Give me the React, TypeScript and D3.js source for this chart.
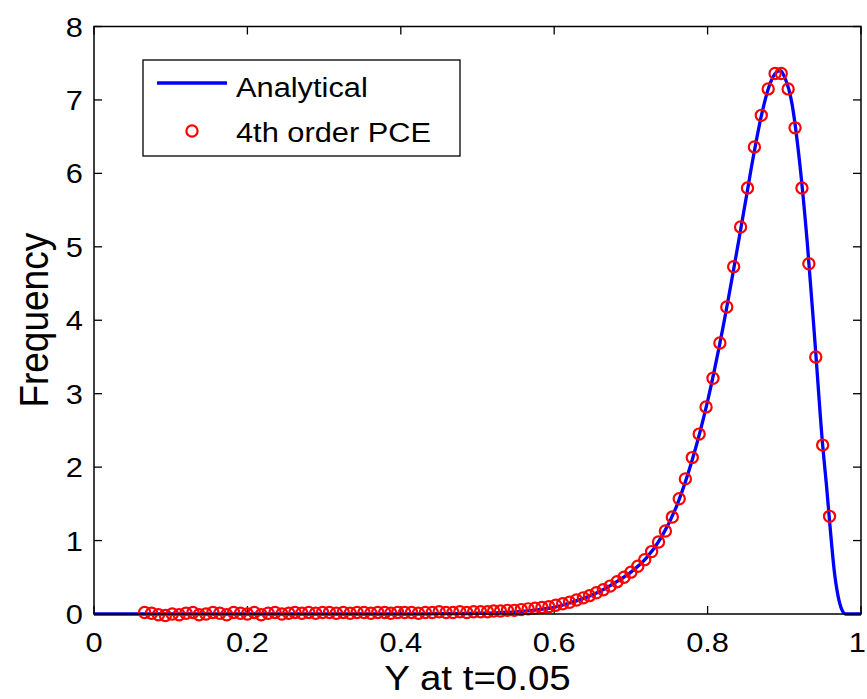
import React from "react";
import * as d3 from "d3";

// 4th order PCE histogram (circles)
const pceX = [
  0.066, 0.075, 0.084, 0.093, 0.102, 0.111, 0.12, 0.129, 0.137, 0.146,
  0.155, 0.164, 0.173, 0.182, 0.191, 0.2, 0.209, 0.218, 0.227, 0.236,
  0.245, 0.254, 0.262, 0.271, 0.28, 0.289, 0.298, 0.307, 0.316, 0.325,
  0.334, 0.343, 0.352, 0.361, 0.37, 0.379, 0.387, 0.396, 0.405, 0.414,
  0.423, 0.432, 0.441, 0.45, 0.459, 0.468, 0.477, 0.486, 0.495, 0.504,
  0.513, 0.521, 0.53, 0.539, 0.548, 0.557, 0.566, 0.575, 0.584, 0.593,
  0.602, 0.611, 0.62, 0.629, 0.638, 0.646, 0.655, 0.664, 0.673, 0.682,
  0.691, 0.7, 0.709, 0.718, 0.727, 0.736, 0.745, 0.754, 0.763, 0.771,
  0.78, 0.789, 0.798, 0.807, 0.816, 0.825, 0.834, 0.843, 0.852, 0.861,
  0.87, 0.879, 0.888, 0.896, 0.905, 0.914, 0.923, 0.932, 0.941, 0.95,
  0.959,
];
const pceY = [
  0.02, 0.01, -0.01, -0.02, 0.0, -0.01, 0.01, 0.02, -0.01, 0.0,
  0.02, 0.01, -0.01, 0.02, 0.01, 0.0, 0.02, -0.01, 0.01, 0.02,
  0.0, 0.01, 0.02, 0.01, 0.02, 0.01, 0.02, 0.02, 0.01, 0.02,
  0.01, 0.02, 0.02, 0.01, 0.02, 0.02, 0.01, 0.02, 0.02, 0.02,
  0.01, 0.02, 0.02, 0.03, 0.02, 0.02, 0.03, 0.02, 0.03, 0.03,
  0.03, 0.04, 0.04, 0.05, 0.05, 0.06, 0.07, 0.08, 0.09, 0.1,
  0.12, 0.14, 0.16, 0.19, 0.22, 0.25, 0.29, 0.33, 0.38, 0.44,
  0.5, 0.57, 0.65, 0.74, 0.85, 0.98, 1.13, 1.32, 1.57, 1.84,
  2.13, 2.45, 2.82, 3.21, 3.69, 4.18, 4.73, 5.27, 5.8, 6.36,
  6.79, 7.15, 7.36, 7.36, 7.15, 6.62, 5.8, 4.77, 3.5, 2.3,
  1.33,
];

// Analytical density (line)
const exactX = [
  0, 0.05, 0.1, 0.2, 0.3, 0.4, 0.45, 0.5, 0.55, 0.58, 0.6, 0.62, 0.64, 0.66,
  0.68, 0.7, 0.72, 0.74, 0.76, 0.78, 0.8, 0.82, 0.84, 0.85, 0.86, 0.87, 0.88,
  0.89, 0.895, 0.9, 0.91, 0.92, 0.93, 0.94, 0.95, 0.955, 0.96, 0.965, 0.97,
  0.975, 0.98, 1,
];
const exactY = [
  0, 0, 0, 0, 0, 0, 0.005, 0.01, 0.03, 0.06, 0.09, 0.15, 0.22, 0.31,
  0.43, 0.57, 0.76, 1.05, 1.48, 2.1, 2.9, 3.9, 5.05, 5.65, 6.25, 6.78, 7.18,
  7.38, 7.4, 7.32, 6.95, 6.15, 5.05, 3.7, 2.3, 1.75, 1.15, 0.6, 0.25,
  0.06, 0, 0,
];

const xTicks = [0, 0.2, 0.4, 0.6, 0.8, 1];
const yTicks = [0, 1, 2, 3, 4, 5, 6, 7, 8];
const seriesNames = ["Analytical", "4th order PCE"];

export default function App() {
  const ref = React.useRef<SVGSVGElement>(null);
  React.useEffect(() => {
    const width = 867;
    const height = 699;
    const marginLeft = 94;
    const marginRight = 6;
    const marginTop = 26.5;
    const marginBottom = 85;
    const font = "'Liberation Sans', Arial, sans-serif";
    const stretch = 1.1;
    const blue = "#0000ff";
    const red = "#ff0000";

    const x = d3.scaleLinear().domain([0, 1]).range([marginLeft, width - marginRight]);
    const y = d3.scaleLinear().domain([0, 8]).range([height - marginBottom, marginTop]);

    const svg = d3.select(ref.current)
      .attr("width", width)
      .attr("height", height)
      .attr("viewBox", [0, 0, width, height].join(" "));
    svg.selectAll("*").remove();

    svg.append("rect").attr("width", width).attr("height", height).attr("fill", "#fff");

    const x0 = x(0), x1 = x(1), y0 = y(0), y1 = y(8);
    const tickLen = 8;

    // ticks (inward, all four sides)
    const ticks = svg.append("g").attr("stroke", "#000").attr("stroke-width", 1.3);
    for (const t of xTicks) {
      ticks.append("line").attr("x1", x(t)).attr("x2", x(t)).attr("y1", y0).attr("y2", y0 - tickLen);
      ticks.append("line").attr("x1", x(t)).attr("x2", x(t)).attr("y1", y1).attr("y2", y1 + tickLen);
    }
    for (const t of yTicks) {
      ticks.append("line").attr("x1", x0).attr("x2", x0 + tickLen).attr("y1", y(t)).attr("y2", y(t));
      ticks.append("line").attr("x1", x1).attr("x2", x1 - tickLen).attr("y1", y(t)).attr("y2", y(t));
    }

    // tick labels
    const lab = svg.append("g").attr("font-family", font).attr("font-size", 28).attr("fill", "#000");
    for (const t of xTicks) {
      // last label sits at the right edge, keep it inside the page
      const last = t === 1;
      lab.append("text")
        .attr("transform", `translate(${last ? width - 1 : x(t)},${y0 + 38}) scale(${stretch},1)`)
        .attr("text-anchor", last ? "end" : "middle")
        .text(String(t));
    }
    for (const t of yTicks) {
      lab.append("text")
        .attr("transform", `translate(${x0 - 11},${y(t) + 10}) scale(${stretch},1)`)
        .attr("text-anchor", "end")
        .text(String(t));
    }

    // axis labels
    svg.append("text")
      .attr("transform", `translate(${(x0 + x1) / 2},${height - 9}) scale(${stretch},1)`)
      .attr("text-anchor", "middle")
      .attr("font-family", font)
      .attr("font-size", 35)
      .text("Y at t=0.05");
    svg.append("text")
      .attr("transform", `translate(48,${(y0 + y1) / 2}) scale(${stretch},1) rotate(-90)`)
      .attr("text-anchor", "middle")
      .attr("font-family", font)
      .attr("font-size", 37)
      .text("Frequency");

    // analytical line
    const exact = exactX.map((v, i) => [v, exactY[i]] as [number, number]);
    const line = d3.line<[number, number]>()
      .x((d) => x(d[0]))
      .y((d) => y(d[1]))
      .curve(d3.curveMonotoneX);
    svg.append("path")
      .datum(exact)
      .attr("fill", "none")
      .attr("stroke", blue)
      .attr("stroke-width", 3.3)
      .attr("d", line);

    // PCE circles
    svg.append("g")
      .attr("fill", "none")
      .attr("stroke", red)
      .attr("stroke-width", 2.2)
      .selectAll("circle")
      .data(pceX)
      .join("circle")
      .attr("cx", (d) => x(d))
      .attr("cy", (d, i) => y(pceY[i]))
      .attr("r", 5.6);

    // axes box
    svg.append("rect")
      .attr("x", x0).attr("y", y1)
      .attr("width", x1 - x0).attr("height", y0 - y1)
      .attr("fill", "none").attr("stroke", "#000").attr("stroke-width", 1.5);

    // legend
    const lg = svg.append("g");
    lg.append("rect")
      .attr("x", 143).attr("y", 60).attr("width", 317).attr("height", 96)
      .attr("fill", "#fff").attr("stroke", "#000").attr("stroke-width", 1.3);
    lg.append("line")
      .attr("x1", 157).attr("x2", 227).attr("y1", 83).attr("y2", 83)
      .attr("stroke", blue).attr("stroke-width", 3.3);
    lg.append("circle")
      .attr("cx", 192).attr("cy", 131).attr("r", 5.6)
      .attr("fill", "none").attr("stroke", red).attr("stroke-width", 2.2);
    seriesNames.forEach((name, i) => {
      lg.append("text")
        .attr("transform", `translate(236,${i === 0 ? 97 : 142}) scale(${stretch},1)`)
        .attr("font-family", font)
        .attr("font-size", 28)
        .text(name);
    });
  }, []);

  return <svg ref={ref} style={{ position: "absolute", left: 0, top: 0 }}></svg>;
}
